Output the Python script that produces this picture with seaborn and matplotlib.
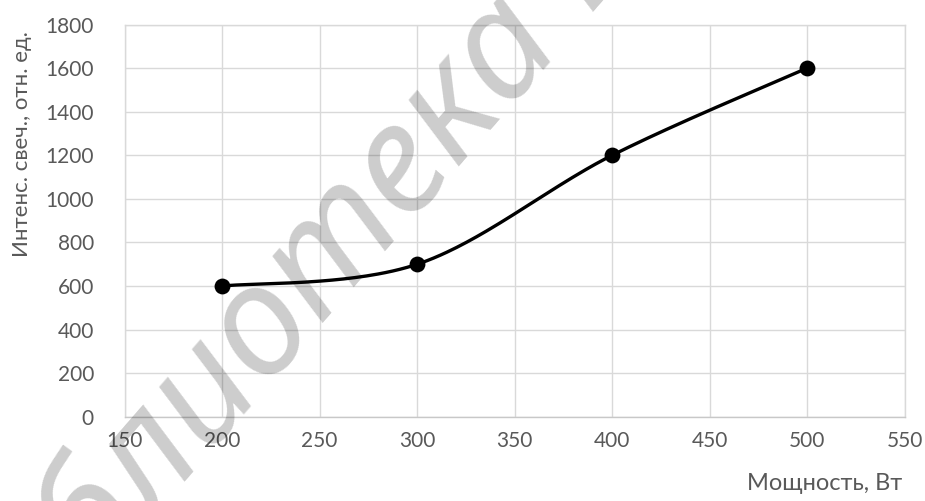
import numpy as np
import pandas as pd
import seaborn as sns
import matplotlib
matplotlib.use("Agg")
import matplotlib.pyplot as plt

# Measured points
power_w = [200, 300, 400, 500]
intensity = [600, 700, 1200, 1600]

x_ticks = [150, 200, 250, 300, 350, 400, 450, 500, 550]
y_ticks = [0, 200, 400, 600, 800, 1000, 1200, 1400, 1600, 1800]

x_label = "Мощность, Вт"
y_label = "Интенс. свеч., отн. ед."
watermark = "Библиотека БГУИР"

sns.set_theme(style="white")
plt.rcParams["font.family"] = ["Lato", "DejaVu Sans"]

TEXT = "#595959"
GRID = "#d9d9d9"


def smooth_curve(xs, ys, n=60):
    """Spreadsheet-style smoothed line: cubic Bezier segments whose
    control points are taken from neighbouring points (tension 1/6)."""
    px = np.r_[xs[0], xs, xs[-1]].astype(float)
    py = np.r_[ys[0], ys, ys[-1]].astype(float)
    out_x, out_y = [], []
    t = np.linspace(0, 1, n)
    for i in range(1, len(px) - 2):
        p0 = np.array([px[i], py[i]])
        p3 = np.array([px[i + 1], py[i + 1]])
        c1 = p0 + (np.array([px[i + 1], py[i + 1]]) - np.array([px[i - 1], py[i - 1]])) / 6
        c2 = p3 - (np.array([px[i + 2], py[i + 2]]) - np.array([px[i], py[i]])) / 6
        b = ((1 - t) ** 3)[:, None] * p0 + (3 * (1 - t) ** 2 * t)[:, None] * c1 \
            + (3 * (1 - t) * t ** 2)[:, None] * c2 + (t ** 3)[:, None] * p3
        if i > 1:
            b = b[1:]
        out_x.extend(b[:, 0])
        out_y.extend(b[:, 1])
    return np.array(out_x), np.array(out_y)


fig = plt.figure(figsize=(9.25, 5.01), dpi=100)
ax = fig.add_axes([0.1346, 0.168, 0.8434, 0.783])

cx, cy = smooth_curve(power_w, intensity)
curve = pd.DataFrame({"x": cx, "y": cy})
points = pd.DataFrame({"x": power_w, "y": intensity})

sns.lineplot(data=curve, x="x", y="y", sort=False, estimator=None,
             color="black", linewidth=2.4, ax=ax, zorder=3)
sns.scatterplot(data=points, x="x", y="y", color="black", s=130,
                edgecolor="black", linewidth=0, ax=ax, zorder=4)

ax.set_xlim(150, 550)
ax.set_ylim(0, 1800)
ax.set_xticks(x_ticks)
ax.set_yticks(y_ticks)
ax.grid(True, color=GRID, linewidth=1.0)
ax.set_axisbelow(True)
for s in ax.spines.values():
    s.set_color(GRID)
    s.set_linewidth(1.0)
ax.spines["bottom"].set_color("#c8c8c8")
ax.tick_params(axis="both", length=0, labelsize=15, labelcolor=TEXT)
ax.tick_params(axis="x", pad=10)
ax.tick_params(axis="y", pad=22)
ax.set_xlabel("")
ax.set_ylabel("")

fig.text(0.975, 0.014, x_label, ha="right", va="bottom", fontsize=17, color=TEXT)
fig.text(0.024, 0.712, y_label, ha="center", va="center", rotation=90,
         fontsize=16, color=TEXT)

# Library watermark across the chart
fig.text(0.43, 0.65, watermark, ha="center", va="center", rotation=49,
         fontsize=110, fontstyle="italic", color="black", alpha=0.2,
         family=["Noto Sans", "DejaVu Sans"], zorder=10)

fig.savefig("out.png", dpi=100, facecolor="white")
